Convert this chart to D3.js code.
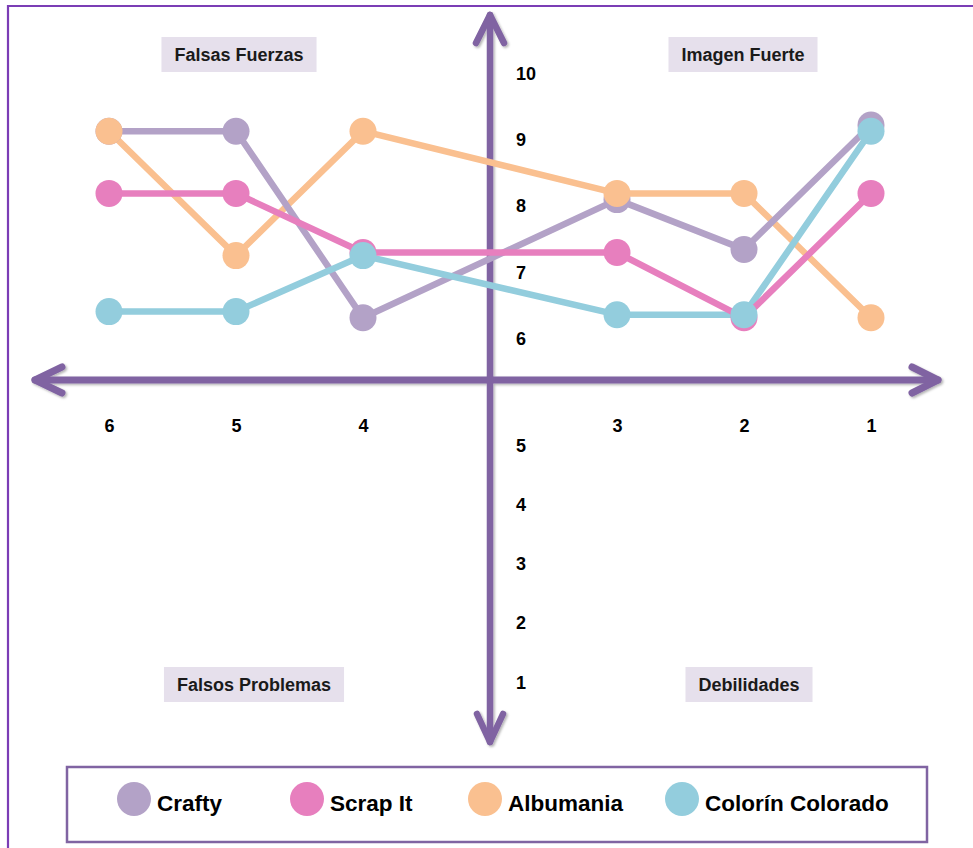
<!DOCTYPE html>
<html>
<head>
<meta charset="utf-8">
<script src="https://cdn.jsdelivr.net/npm/d3@7"></script>
<style>
  body { margin: 0; background: #ffffff; }
  svg { display: block; font-family: "Liberation Sans", Arial, sans-serif; }
</style>
</head>
<body>
<svg id="chart" width="973" height="848"></svg>
<script>
// Ranking positions along the horizontal axis (6 on the far left, 1 on the far right)
const rankings = ["6", "5", "4", "3", "2", "1"];
// Score ticks: upper half counts up from the centre, lower half counts down
const upperTicks = [6, 7, 8, 9, 10];
const lowerTicks = [5, 4, 3, 2, 1];

// Scores per brand, in ranking order 6 → 1
const crafty          = [9, 9, 6, 7.9, 7.1, 9.1];
const scrapIt         = [8, 8, 7.05, 7.05, 6, 8];
const albumania       = [9, 7, 9, 8, 8, 6];
const colorinColorado = [6.1, 6.1, 7, 6.05, 6.05, 9];

const seriesNames  = ["Crafty", "Scrap It", "Albumania", "Colorín Colorado"];
const seriesColors = ["#b3a2c7", "#e77fbe", "#fac090", "#93cddd"];

const quadrantLabels = ["Falsas Fuerzas", "Imagen Fuerte", "Falsos Problemas", "Debilidades"];

// ---------------------------------------------------------------------------
const svg = d3.select("#chart");
const AXIS = "#8064a2";
const originY = 380;

const series = seriesNames.map((name, i) => ({
  name,
  color: seriesColors[i],
  values: [crafty, scrapIt, albumania, colorinColorado][i]
}));

// Horizontal slots: three rankings each side of the vertical axis
const slots = [...rankings.slice(0, 3), "centre", ...rankings.slice(3)];
const x = d3.scalePoint().domain(slots).range([109, 871]);
const originX = x("centre");

// Upper half: 5 sits on the horizontal axis, 10 at the top
const yUp = d3.scaleLinear().domain([5, 10]).range([originY, 69]);
// Lower half: counts down from the horizontal axis
const yDown = d3.scaleLinear().domain([6, 1]).range([originY, 691]);
// Score labels sit in their own column beside the ticks
const labelUp = d3.scaleLinear().domain([10, 6]).range([79, 345]);
const labelDown = d3.scaleLinear().domain([5, 1]).range([451, 688]);

// Soft drop shadow for the axes
const defs = svg.append("defs");
const f = defs.append("filter").attr("id", "shadow")
  .attr("x", "-10%").attr("y", "-10%").attr("width", "120%").attr("height", "120%");
f.append("feDropShadow").attr("dx", 1.5).attr("dy", 1.5)
  .attr("stdDeviation", 1.2).attr("flood-color", "#000").attr("flood-opacity", 0.3);

// Outer frame (top and left edges)
svg.append("path")
  .attr("d", "M8,848V6H973")
  .attr("fill", "none").attr("stroke", "#7b3db5").attr("stroke-width", 2.2);

// Quadrant captions
const quadrantLayout = [
  { cx: x("5") + 3, cy: 54.5 },
  { cx: x("2") - 1, cy: 54.5 },
  { cx: x("5") + 18, cy: 684.5 },
  { cx: x("2") + 5, cy: 684.5 }
];
quadrantLabels.forEach((label, i) => {
  const g = svg.append("g").attr("transform", `translate(${quadrantLayout[i].cx},${quadrantLayout[i].cy})`);
  const rect = g.append("rect").attr("fill", "#e6e0ec");
  const t = g.append("text")
    .attr("text-anchor", "middle").attr("y", 6.5)
    .attr("font-size", 18).attr("font-weight", "bold").attr("fill", "#1a1a1a")
    .text(label);
  const w = t.node().getComputedTextLength() + 26;
  rect.attr("x", -w / 2).attr("y", -17.5).attr("width", w).attr("height", 35);
});

// Axes group
const axes = svg.append("g").attr("filter", "url(#shadow)")
  .attr("stroke", AXIS).attr("fill", "none")
  .attr("stroke-linecap", "round").attr("stroke-linejoin", "round");

// Horizontal axis with double arrow
axes.append("line").attr("x1", 35).attr("x2", 938).attr("y1", originY).attr("y2", originY).attr("stroke-width", 7);
axes.append("polyline").attr("points", `62,${originY - 13} 35,${originY} 62,${originY + 13}`).attr("stroke-width", 7);
axes.append("polyline").attr("points", `912,${originY - 13} 938,${originY} 912,${originY + 13}`).attr("stroke-width", 7);
// Vertical axis with double arrow
axes.append("line").attr("x1", originX).attr("x2", originX).attr("y1", 15).attr("y2", 742).attr("stroke-width", 6.5);
axes.append("polyline").attr("points", `${originX - 14},43 ${originX},15 ${originX + 14},43`).attr("stroke-width", 6.5);
axes.append("polyline").attr("points", `${originX - 13},714 ${originX},742 ${originX + 13},714`).attr("stroke-width", 6.5);

// Ranking ticks below the horizontal axis
const xAxis = svg.append("g")
  .attr("transform", `translate(0,${originY})`)
  .call(d3.axisBottom(x).tickValues(rankings).tickSize(25).tickPadding(14));
xAxis.select(".domain").remove();
xAxis.selectAll(".tick line").attr("stroke", AXIS).attr("stroke-width", 5).attr("filter", "url(#shadow)");
xAxis.selectAll(".tick text")
  .attr("font-size", 18).attr("font-weight", "bold").attr("fill", "#000")
  .attr("font-family", "Liberation Sans, Arial, sans-serif");

// Score ticks on the vertical axis
function scoreAxis(scale, labelScale, ticks) {
  const g = svg.append("g")
    .attr("transform", `translate(${originX},0)`)
    .call(d3.axisRight(scale).tickValues(ticks).tickSize(25).tickFormat(d3.format("d")));
  g.select(".domain").remove();
  g.selectAll(".tick line").attr("stroke", AXIS).attr("stroke-width", 4).attr("filter", "url(#shadow)");
  g.selectAll(".tick text")
    .attr("x", 26).attr("dy", 0)
    .attr("y", d => labelScale(d) - scale(d))
    .attr("text-anchor", "start")
    .attr("font-size", 18).attr("font-weight", "bold").attr("fill", "#000")
    .attr("font-family", "Liberation Sans, Arial, sans-serif");
}
scoreAxis(yUp, labelUp, upperTicks);
scoreAxis(yDown, labelDown, lowerTicks);

// Brand lines
const line = d3.line()
  .x((d, i) => x(rankings[i]))
  .y(d => yUp(d));
const lineOrder = [2, 0, 3, 1];
svg.append("g").selectAll("path")
  .data(lineOrder.map(i => series[i]))
  .join("path")
  .attr("d", d => line(d.values))
  .attr("fill", "none")
  .attr("stroke", d => d.color)
  .attr("stroke-width", 6.5)
  .attr("stroke-linejoin", "round");

// Brand markers
const pts = svg.append("g");
series.forEach(s => {
  pts.selectAll(null)
    .data(s.values)
    .join("circle")
    .attr("cx", (d, i) => x(rankings[i]))
    .attr("cy", d => yUp(d))
    .attr("r", 13.5)
    .attr("fill", s.color);
});

// Legend
svg.append("rect")
  .attr("x", 67).attr("y", 767).attr("width", 860).attr("height", 75)
  .attr("fill", "#fff").attr("stroke", AXIS).attr("stroke-width", 2.5);
const legendX = [134, 307, 485, 682];
const legend = svg.append("g").selectAll("g")
  .data(series)
  .join("g")
  .attr("transform", (d, i) => `translate(${legendX[i]},799)`);
legend.append("circle").attr("r", 17).attr("fill", d => d.color);
legend.append("text")
  .attr("x", 23).attr("y", 12)
  .attr("font-size", 22.5).attr("font-weight", "bold").attr("fill", "#000")
  .text(d => d.name);
</script>
</body>
</html>
